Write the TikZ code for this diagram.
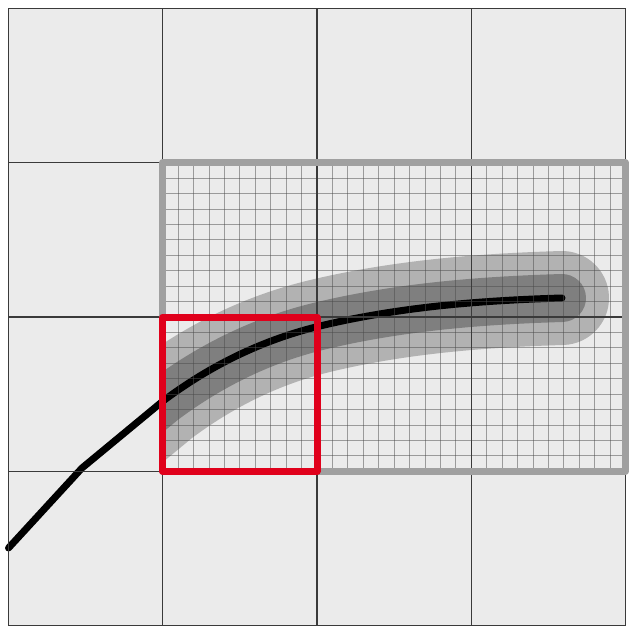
\documentclass[tikz,border=0pt]{standalone}
\begin{document}
\begin{tikzpicture}[x=1pt,y=-1pt]
\definecolor{bgc}{HTML}{EBEBEB}
\definecolor{lightband}{HTML}{B2B2B2}
\definecolor{darkband}{HTML}{7F7F7F}
\definecolor{coarsec}{HTML}{3A3A3A}
\definecolor{finec}{HTML}{4A4A4A}
\definecolor{framec}{HTML}{A0A0A0}
\definecolor{redc}{HTML}{E0001B}
\tikzset{
  coarseline/.style={draw=coarsec,line width=1.2},
  fineline/.style={draw=finec,line width=0.9,opacity=0.5},
  grayframe/.style={draw=framec,line width=7,line join=round},
  redframe/.style={draw=redc,line width=7,line join=round},
}
\newcommand\thecurve[1]{\draw[#1] (8.5,548) -- (82,468) -- (163,401) .. controls (215,362) and (268,338.5) .. (320,326) .. controls (400,306.8) and (482,300.4) .. (562,298);}
\useasboundingbox (0,0) rectangle (636,634);
\fill[bgc] (8.5,8.5) rectangle (625.5,625.5);
\begin{scope}
\clip (162.75,162.75) rectangle (625.5,471.25);
\thecurve{lightband,line width=94,line cap=round,line join=round}
\thecurve{darkband,line width=48,line cap=round,line join=round}
\end{scope}
\thecurve{black,line width=7,line cap=round,line join=round}
\foreach \i in {0,...,30} \draw[fineline] ({162.75+\i*15.425},162.75) -- ({162.75+\i*15.425},471.25);
\foreach \j in {0,...,20} \draw[fineline] (162.75,{162.75+\j*15.425}) -- (625.5,{162.75+\j*15.425});
\foreach \i in {0,...,4} {
  \draw[coarseline] ({8.5+\i*154.25},8.5) -- ({8.5+\i*154.25},625.5);
  \draw[coarseline] (8.5,{8.5+\i*154.25}) -- (625.5,{8.5+\i*154.25});
}
\draw[grayframe] (162.75,162.75) rectangle (625.5,471.25);
\draw[redframe] (162.75,317) rectangle (317,471.25);
\end{tikzpicture}
\end{document}
